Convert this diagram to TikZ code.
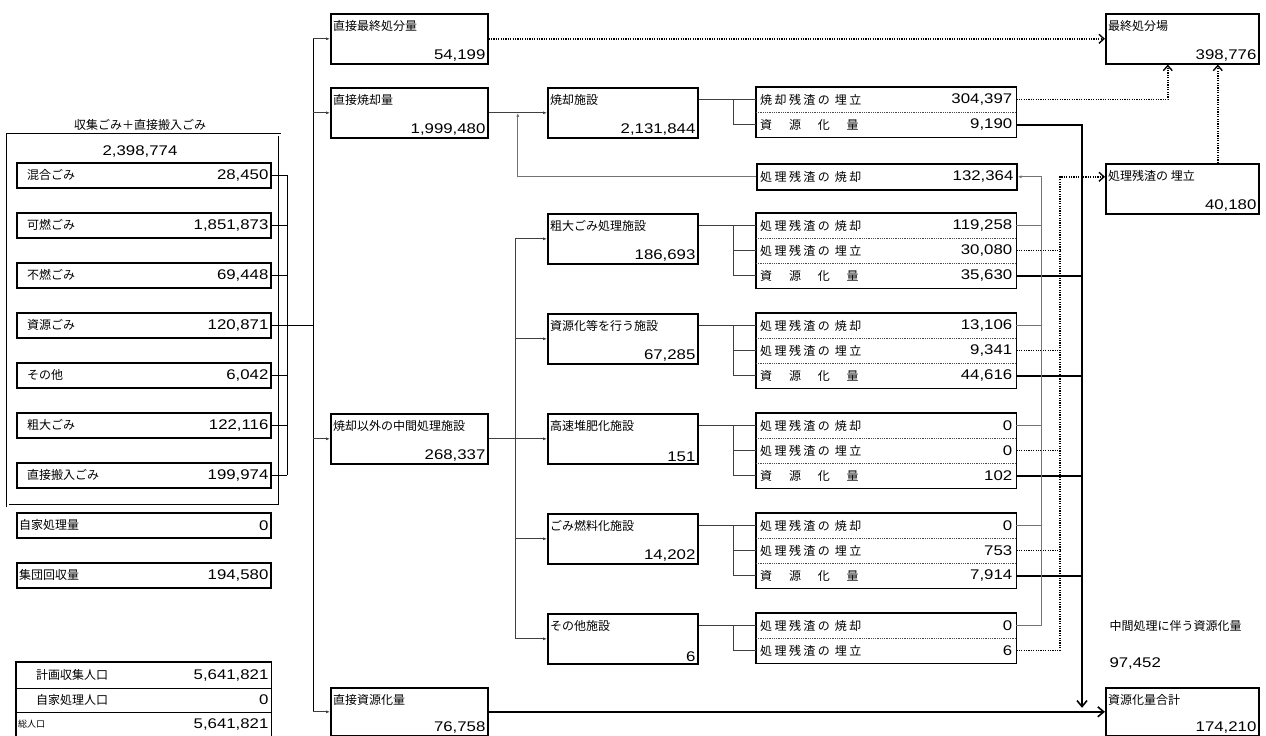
\documentclass[tikz,border=0pt]{standalone}
\usepackage{fontspec}
\setmainfont{Liberation Sans}
\newfontfamily\jpfont{Noto Sans CJK JP}
\newfontfamily\jpwide[LetterSpace=20]{Noto Sans CJK JP}
\newfontfamily\numfont[FakeStretch=1.2]{Liberation Sans}
\usetikzlibrary{arrows.meta,calc}

\begin{document}
\begin{tikzpicture}[x=1pt,y=-1pt,
  jp/.style={font=\jpfont\fontsize{12}{14}\selectfont},
  num/.style={font=\numfont\fontsize{14}{16}\selectfont},
  box/.style={draw,line width=1.6pt,inner sep=0pt,anchor=north west,minimum height=50pt},
  src/.style={draw,line width=1.6pt,inner sep=0pt,anchor=north west,minimum width=254pt,minimum height=25pt},
  row/.style={inner sep=0pt,anchor=north west,minimum width=260pt,minimum height=25pt},
  lt/.style={jp,anchor=north west,inner xsep=3pt,inner ysep=7pt},
  rb/.style={num,anchor=south east,inner xsep=3pt,inner ysep=3pt},
  rl/.style={font=\jpwide\fontsize{12}{14}\selectfont,anchor=west,inner xsep=4pt},
  sl/.style={jp,anchor=west,inner xsep=11pt},
  rr/.style={num,anchor=east,inner xsep=3pt},
  divider/.style={black!70,line width=0.6pt,dash pattern=on 0.9pt off 0.9pt},
  bline/.style={black,line width=0.8pt},
  gline/.style={black!75,line width=0.9pt},
  garrow/.style={gline,-{Latex[length=4pt,width=3pt]}},
  rline/.style={black!55,line width=0.9pt,-{Latex[length=4pt,width=3pt]}},
  dline/.style={line width=1.4pt,dash pattern=on 1.2pt off 1.2pt},
  darrow/.style={dline,-{Straight Barb[length=5pt,width=9pt]}},
  kline/.style={line width=1.6pt},
  karrow/.style={kline,-{Straight Barb[length=6pt,width=10pt]}}]
\useasboundingbox (0,0) rectangle (1266,736);

% collected waste
\node[jp] (ttl) at (140,125) {収集ごみ＋直接搬入ごみ};
\node[num] (tot) at (140,152) {2,398,774};
\draw[double,double distance=2pt,line width=0.8pt] (7.5,134.5) rectangle (279.5,505.5);
\foreach \lab/\val [count=\i] in {混合ごみ/{28,450},可燃ごみ/{1,851,873},不燃ごみ/{69,448},資源ごみ/{120,871},その他/{6,042},粗大ごみ/{122,116},直接搬入ごみ/{199,974}}
  \node[src,label={[sl]west:\lab},label={[rr]east:\val}] (src\i) at (16,112+50*\i) {};
\node[src,label={[sl,inner xsep=3pt]west:自家処理量},label={[rr]east:0}] (self) at (16,512) {};
\node[src,label={[sl,inner xsep=3pt]west:集団回収量},label={[rr]east:194,580}] (group) at (16,562) {};

% population
\node[src,draw=none,minimum height=24.5pt,label={[sl,inner xsep=20pt]west:計画収集人口},label={[rr]east:5,641,821}] (pop1) at (16,662) {};
\node[src,draw=none,minimum height=24.5pt,label={[sl,inner xsep=20pt]west:自家処理人口},label={[rr]east:0}] (pop2) at (16,686.5) {};
\node[src,draw=none,minimum height=24.5pt,label={[anchor=west,inner xsep=2pt,font=\jpfont\fontsize{9}{11}\selectfont]west:総人口},label={[rr]east:5,641,821}] (pop3) at (16,711) {};
\draw[line width=1.6pt] (pop1.north west) rectangle (pop3.south east);
\draw[line width=0.6pt] (pop1.south west) -- (pop1.south east) (pop2.south west) -- (pop2.south east);

% main flows
\node[box,minimum width=157pt,label={[lt]north west:直接最終処分量},label={[rb]south east:54,199}] (dfinal) at (330,13) {};
\node[box,minimum width=157pt,label={[lt]north west:直接焼却量},label={[rb]south east:1,999,480}] (dburn) at (330,87) {};
\node[box,minimum width=157pt,label={[lt]north west:焼却以外の中間処理施設},label={[rb]south east:268,337}] (nonburn) at (330,413) {};
\node[box,minimum width=157pt,minimum height=48pt,label={[lt]north west:直接資源化量},label={[rb]south east:76,758}] (dres) at (330,687) {};
\node[box,minimum width=150pt,label={[lt]north west:焼却施設},label={[rb]south east:2,131,844}] (incin) at (547,87) {};
\foreach \f/\y/\lab/\val in {1/213/粗大ごみ処理施設/{186,693},2/313/資源化等を行う施設/{67,285},3/413/高速堆肥化施設/151,4/513/ごみ燃料化施設/{14,202},5/613/その他施設/6}
  \node[box,minimum width=150pt,label={[lt]north west:\lab},label={[rb]south east:\val}] (fac-\f) at (547,\y) {};
\node[box,minimum width=153pt,label={[lt]north west:最終処分場},label={[rb]south east:398,776}] (final) at (1105,13) {};
\node[box,minimum width=153pt,label={[lt]north west:処理残渣の 埋立},label={[rb]south east:40,180}] (rland) at (1105,163) {};
\node[box,minimum width=153pt,minimum height=48pt,label={[lt]north west:資源化量合計},label={[rb]south east:174,210}] (restot) at (1105,687) {};
\node[jp,anchor=west] (midlab) at (1106,626) {中間処理に伴う資源化量};
\node[num,anchor=west] (midval) at (1106,663) {97,452};

% residues
\node[row,label={[rl]west:焼却残渣の 埋立},label={[rr,inner xsep=4pt]east:304,397}] (ia) at (756,87) {};
\node[row,label={[rl]west:資　源　化　量},label={[rr,inner xsep=4pt]east:9,190}] (ib) at (756,112) {};
\draw[line width=1.6pt] (ia.north west) rectangle (ib.south east);
\draw[divider] (ia.south west) -- (ia.south east);
\node[row,draw,line width=1.6pt,minimum height=26pt,label={[rl]west:処理残渣の 焼却},label={[rr,inner xsep=4pt]east:132,364}] (rret) at (756,163) {};
\foreach \f/\y/\va/\vb/\vc in {1/213/{119,258}/{30,080}/{35,630},2/313/{13,106}/{9,341}/{44,616},3/413/0/0/102,4/513/0/753/{7,914}}{
  \node[row,label={[rl]west:処理残渣の 焼却},label={[rr,inner xsep=4pt]east:\va}] (r\f-a) at (756,\y) {};
  \node[row,label={[rl]west:処理残渣の 埋立},label={[rr,inner xsep=4pt]east:\vb}] (r\f-b) at (756,\y+25) {};
  \node[row,label={[rl]west:資　源　化　量},label={[rr,inner xsep=4pt]east:\vc}] (r\f-c) at (756,\y+50) {};
  \draw[line width=1.6pt] (r\f-a.north west) rectangle (r\f-c.south east);
  \draw[divider] (r\f-a.south west) -- (r\f-a.south east) (r\f-b.south west) -- (r\f-b.south east);
}
\node[row,label={[rl]west:処理残渣の 焼却},label={[rr,inner xsep=4pt]east:0}] (r5-a) at (756,613) {};
\node[row,label={[rl]west:処理残渣の 埋立},label={[rr,inner xsep=4pt]east:6}] (r5-b) at (756,638) {};
\draw[line width=1.6pt] (r5-a.north west) rectangle (r5-b.south east);
\draw[divider] (r5-a.south west) -- (r5-a.south east);

% connectors
\coordinate (lbus) at (287,0);
\coordinate (trunk) at (313,0);
\coordinate (sbus) at (515,0);
\coordinate (fbus) at (733,0);
\coordinate (rbus) at (1041,0);
\coordinate (dbus) at (1060,0);
\coordinate (kbus) at (1082,0);
\foreach \i in {1,...,7} \draw[bline] (src\i.east) -- (src\i.east -| lbus);
\draw[bline] (src1.east -| lbus) -- (src7.east -| lbus);
\draw[bline] (src4.east -| lbus) -- (src4.east -| trunk);
\draw[bline] (dfinal.west -| trunk) -- (dres.west -| trunk);
\foreach \b in {dfinal,dburn,nonburn,dres} \draw[garrow] (\b.west -| trunk) -- (\b.west);
\draw[garrow] (dburn) -- (incin);
\draw[gline] (fac-1.west -| sbus) -- (fac-5.west -| sbus);
\foreach \f in {1,2,4,5} \draw[garrow] (fac-\f.west -| sbus) -- (fac-\f.west);
\draw[garrow] (nonburn.east) -- (fac-3.west);
\draw[gline] (incin.east |- ia.west) -- (ia.west) (ia.west -| fbus) |- (ib.west);
\foreach \f in {1,...,4}{
  \draw[gline] (fac-\f.east |- r\f-a.west) -- (r\f-a.west) (r\f-a.west -| fbus) |- (r\f-c.west) (r\f-b.west -| fbus) -- (r\f-b.west);
  \draw[kline] (r\f-c.east) -- (r\f-c.east -| kbus);
}
\draw[gline] (fac-5.east |- r5-a.west) -- (r5-a.west) (r5-a.west -| fbus) |- (r5-b.west);
\foreach \f in {1,...,5}{
  \draw[gline,black!55] (r\f-a.east) -- (r\f-a.east -| rbus);
  \draw[dline] (r\f-b.east) -- (r\f-b.east -| dbus);
}
\draw[rline] (r5-a.east -| rbus) |- (rret.east);
\draw[rline] (rret.west) -| ($(dburn.east)!.5!(incin.west)$);
\draw[darrow] (r5-b.east -| dbus) |- (rland.west |- rret.east);
\draw[darrow] (dfinal.east) -- (final.west);
\draw[darrow] (ia.east) -| ([xshift=-14.5pt]final.south);
\draw[darrow] ([xshift=35.5pt]rland.north) -- ([xshift=35.5pt]final.south);
\draw[karrow] (ib.east) -| ($(dres.east -| kbus)+(0,-4)$);
\draw[karrow] (dres.east) -- (restot.west);
\end{tikzpicture}
\end{document}
